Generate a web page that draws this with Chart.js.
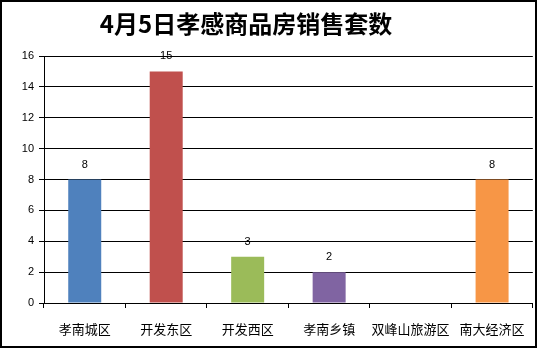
<!DOCTYPE html>
<html>
<head>
<meta charset="utf-8">
<script src="https://cdn.jsdelivr.net/npm/chart.js@4"></script>
<style>
    html, body { margin: 0; padding: 0; background: #fff; }
    #wrap { position: relative; width: 538px; height: 349px; }
</style>
</head>
<body>
<div id="wrap"><canvas id="chart" width="538" height="349"></canvas></div>
<script>
    'use strict';

    // data
    var chart_title = '4月5日孝感商品房销售套数';
    var districts = ['孝南城区', '开发东区', '开发西区', '孝南乡镇', '双峰山旅游区', '南大经济区'];
    var sales = [8, 15, 3, 2, 0, 8];
    var bar_colors = ['#4F81BD', '#C0504D', '#9BBB59', '#8064A2', '#4BACC6', '#F79646'];
    var y_ticks = [0, 2, 4, 6, 8, 10, 12, 14, 16];

    // frame round the picture and the title
    let frame_plugin = {
        id: 'frame',
        afterDraw(chart) {
            let ctx = chart.ctx;
            ctx.save();
            ctx.strokeStyle = '#000';
            ctx.lineWidth = 2;
            ctx.strokeRect(1, 1, 535, 346);
            ctx.fillStyle = '#000';
            ctx.font = 'bold 24px "Noto Sans CJK SC"';
            ctx.textAlign = 'center';
            ctx.textBaseline = 'middle';
            ctx.fillText(chart_title, 246, 24);
            ctx.restore();
        }
    };

    // value above each bar, zero bars get none
    let value_plugin = {
        id: 'values',
        afterDatasetsDraw(chart) {
            let ctx = chart.ctx,
                meta = chart.getDatasetMeta(0);
            ctx.save();
            ctx.fillStyle = '#000';
            ctx.font = '11px "Liberation Sans"';
            ctx.textAlign = 'center';
            ctx.textBaseline = 'middle';
            meta.data.forEach(function (bar, i) {
                let v = chart.data.datasets[0].data[i];
                if (!v) {
                    return;
                }
                ctx.fillText(String(v), bar.x, bar.y - 15);
            });
            ctx.restore();
        }
    };

    new Chart(document.getElementById('chart'), {
        type: 'bar',
        data: {
            labels: districts,
            datasets: [{
                data: sales,
                backgroundColor: bar_colors,
                borderWidth: 0,
                categoryPercentage: 1,
                barPercentage: 0.405
            }]
        },
        options: {
            responsive: false,
            animation: false,
            devicePixelRatio: 1,
            layout: {padding: {top: 56, right: 5, left: 0, bottom: 0}},
            plugins: {
                legend: {display: false},
                tooltip: {enabled: false}
            },
            scales: {
                x: {
                    offset: true,
                    grid: {
                        offset: true,
                        drawOnChartArea: false,
                        color: '#000',
                        tickLength: 5
                    },
                    border: {color: '#000', width: 1},
                    ticks: {
                        color: '#000',
                        padding: 13,
                        maxRotation: 0,
                        autoSkip: false,
                        font: {family: '"Noto Sans CJK SC"', size: 13}
                    },
                    afterFit(scale) {
                        scale.height = 46;
                    }
                },
                y: {
                    min: 0,
                    max: 16,
                    afterBuildTicks(scale) {
                        scale.ticks = y_ticks.map(function (v) { return {value: v}; });
                    },
                    grid: {
                        color: '#000',
                        tickLength: 5
                    },
                    border: {color: '#000', width: 1},
                    ticks: {
                        color: '#000',
                        padding: 5,
                        font: {family: '"Liberation Sans"', size: 11}
                    },
                    afterFit(scale) {
                        scale.width = 44;
                    }
                }
            }
        },
        plugins: [value_plugin, frame_plugin]
    });
</script>
</body>
</html>
